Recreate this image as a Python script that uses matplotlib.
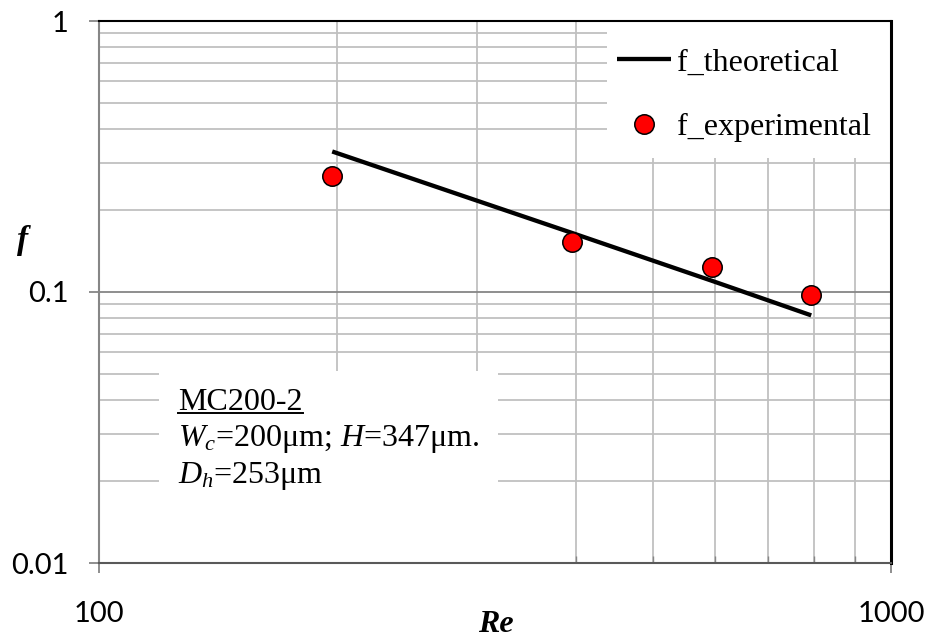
"""
Friction factor vs Reynolds number for microchannel MC200-2 (log-log).
"""

import matplotlib.pyplot as plt
import matplotlib.ticker as ticker
from matplotlib.patches import Rectangle

# Experimental friction factor
re_exp = [197, 396, 594, 792]
f_exp = [0.268, 0.153, 0.124, 0.0976]

# Theoretical (laminar) friction factor
re_th = [197, 396, 594, 793]
f_th = [0.330, 0.165, 0.110, 0.082]

x_ticks = [100, 1000]
x_tick_labels = ["100", "1000"]
y_ticks = [0.01, 0.1, 1]
y_tick_labels = ["0.01", "0.1", "1"]

plt.rcParams["font.family"] = ["Liberation Serif", "DejaVu Serif"]
plt.rcParams["mathtext.fontset"] = "custom"
plt.rcParams["mathtext.rm"] = "Liberation Serif"
plt.rcParams["mathtext.it"] = "Liberation Serif:italic"
plt.rcParams["mathtext.bf"] = "Liberation Serif:bold"

W, H = 929, 640
fig = plt.figure(figsize=(W / 100, H / 100), dpi=100)
# plot area in pixels: x 99..891, y 21..563
ax = fig.add_axes([99 / W, (H - 563) / H, (891 - 99) / W, (563 - 21) / H])

ax.set_xscale("log")
ax.set_yscale("log")
ax.set_xlim(100, 1000)
ax.set_ylim(0.01, 1)

# grid
ax.set_axisbelow(True)
ax.xaxis.set_minor_locator(ticker.LogLocator(base=10, subs=range(2, 10)))
ax.yaxis.set_minor_locator(ticker.LogLocator(base=10, subs=range(2, 10)))
ax.grid(True, which="minor", color="#c0c0c0", linewidth=1.3)
ax.grid(True, which="major", axis="y", color="#868686", linewidth=1.3)

ax.set_xticks(x_ticks)
ax.set_xticklabels(x_tick_labels)
ax.set_yticks(y_ticks)
ax.set_yticklabels(y_tick_labels)
ax.xaxis.set_minor_formatter(ticker.NullFormatter())
ax.yaxis.set_minor_formatter(ticker.NullFormatter())

for lab in ax.get_xticklabels() + ax.get_yticklabels():
    lab.set_fontfamily(["Lato", "DejaVu Sans"])
    lab.set_fontsize(21)

ax.tick_params(axis="both", which="major", direction="out", length=7,
               width=1.3, color="#868686")
ax.tick_params(axis="x", which="major", pad=20)
ax.tick_params(axis="y", which="major", pad=15)
ax.tick_params(axis="x", which="minor", direction="in", length=5,
               width=1.0, color="#868686")
ax.tick_params(axis="y", which="minor", length=0)

ax.spines["left"].set_color("#868686")
ax.spines["left"].set_linewidth(1.5)
ax.spines["bottom"].set_color("#595959")
ax.spines["bottom"].set_linewidth(1.5)
ax.spines["top"].set_color("black")
ax.spines["top"].set_linewidth(1.5)
ax.spines["right"].set_color("black")
ax.spines["right"].set_linewidth(2.2)

# white panels behind the legend and the channel description
ax.add_patch(Rectangle(((607 - 99) / 792, (563 - 158) / 542),
                       1 - (607 - 99) / 792, (158 - 21) / 542,
                       transform=ax.transAxes, facecolor="white",
                       edgecolor="none", zorder=1))
ax.add_patch(Rectangle(((159 - 99) / 792, 0), (498 - 159) / 792,
                       (563 - 371) / 542, transform=ax.transAxes,
                       facecolor="white", edgecolor="none", zorder=1))

ax.plot(re_th, f_th, color="black", linewidth=3.1, solid_capstyle="butt",
        label="f_theoretical", zorder=3)
ax.plot(re_exp, f_exp, linestyle="none", marker="o", markersize=14,
        markerfacecolor="#ff0000", markeredgecolor="black",
        markeredgewidth=1.1, label="f_experimental", zorder=4)

ax.legend(loc="upper left", bbox_to_anchor=((617 - 99) / 792, (563 - 48) / 542),
          frameon=False, borderaxespad=0, borderpad=0, fontsize=23,
          handlelength=1.69, handletextpad=0.18, labelspacing=1.1,
          numpoints=1)

ax.set_xlabel("Re", fontsize=23, fontweight="bold", fontstyle="italic")
ax.xaxis.set_label_coords((496 - 99) / 792, -(624 - 563) / 542)
ax.xaxis.label.set_verticalalignment("center")
ax.set_ylabel("f", fontsize=24, fontweight="bold", fontstyle="italic",
              rotation=0, va="center", ha="center")
ax.yaxis.set_label_coords((23 - 99) / 792, (563 - 240) / 542)

# channel description
x_txt = (178 - 99) / 792
t1 = ax.text(x_txt, (563 - 410) / 542, "MC200-2", transform=ax.transAxes,
             fontsize=23, va="baseline", ha="left", zorder=5)
ax.text(x_txt, (563 - 446) / 542, "$W_c$=200μm; $H$=347μm.",
        transform=ax.transAxes, fontsize=23, va="baseline", ha="left", zorder=5)
ax.text(x_txt, (563 - 483) / 542, "$D_h$=253μm", transform=ax.transAxes,
        fontsize=23, va="baseline", ha="left", zorder=5)

# underline the channel name
fig.canvas.draw()
bb = t1.get_window_extent().transformed(ax.transAxes.inverted())
ax.plot([bb.x0, bb.x1], [(563 - 413) / 542] * 2, transform=ax.transAxes,
        color="black", linewidth=1.4, zorder=5)

fig.savefig("out.png", dpi=100)
